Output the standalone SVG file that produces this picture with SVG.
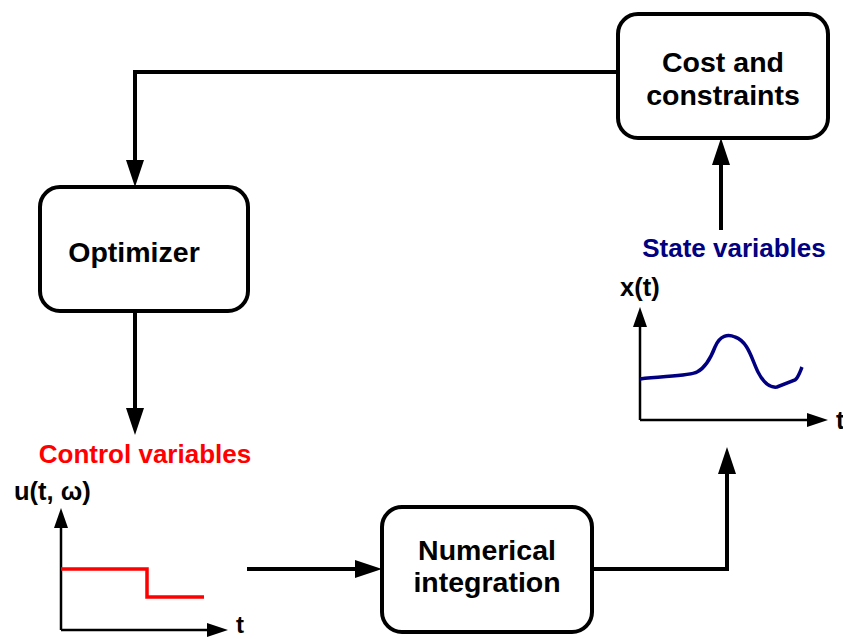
<svg xmlns="http://www.w3.org/2000/svg" width="843" height="639" viewBox="0 0 843 639">
<style>
.box{fill:#fff;stroke:#000;stroke-width:4}
.ln{fill:none;stroke:#000;stroke-width:4}
.ax{fill:none;stroke:#000;stroke-width:2.5}
.hd{fill:#000}
.t{font-family:"Liberation Sans",Arial,sans-serif;font-weight:bold;fill:#000}
</style>
<rect width="843" height="639" fill="#fff"/>
<g id="connectors">
<path class="ln" d="M618,72 H135 V162"/>
<polygon class="hd" points="126,160 144,160 135,187"/>
<path class="ln" d="M135,310 V410"/>
<polygon class="hd" points="126,408 144,408 135,435"/>
<path class="ln" d="M247,569 H357"/>
<polygon class="hd" points="355,560 355,578 382,569"/>
<path class="ln" d="M592,569 H727 V472"/>
<polygon class="hd" points="718,474 736,474 727,447"/>
<path class="ln" d="M721,230 V163"/>
<polygon class="hd" points="712,165 730,165 721,138"/>
</g>
<g id="cost">
<rect class="box" x="618" y="14" width="210" height="124" rx="20"/>
<text class="t" x="723" y="72" font-size="28.5" text-anchor="middle">Cost and</text>
<text class="t" x="723" y="105" font-size="28.5" text-anchor="middle">constraints</text>
</g>
<g id="optimizer">
<rect class="box" x="40" y="187" width="208" height="124" rx="20"/>
<text class="t" x="134" y="262" font-size="28.5" text-anchor="middle">Optimizer</text>
</g>
<g id="numerical">
<rect class="box" x="382" y="507" width="210" height="125" rx="20"/>
<text class="t" x="487" y="560" font-size="28.5" text-anchor="middle">Numerical</text>
<text class="t" x="487" y="592" font-size="28.5" text-anchor="middle">integration</text>
</g>
<g id="control">
<text class="t" x="145" y="463" font-size="26" text-anchor="middle" style="fill:#ff0000">Control variables</text>
<text class="t" x="14" y="500" font-size="25.5">u(t, ω)</text>
<path class="ax" d="M61,630 V525 M61,630 H210"/>
<polygon class="hd" points="54,528 68,528 61,508"/>
<polygon class="hd" points="207,623 207,637 228,630"/>
<text class="t" x="236" y="633" font-size="24">t</text>
<path fill="none" stroke="#ff0000" stroke-width="3.5" d="M61,569 H147 V597 H204"/>
</g>
<g id="state">
<text class="t" x="734" y="257" font-size="26" text-anchor="middle" style="fill:#000080">State variables</text>
<text class="t" x="620" y="296" font-size="25.5">x(t)</text>
<path class="ax" d="M640,420 V325 M640,420 H810"/>
<polygon class="hd" points="633,327 647,327 640,307"/>
<polygon class="hd" points="807,413 807,427 828,420"/>
<text class="t" x="836" y="429" font-size="25">t</text>
<path fill="none" stroke="#000080" stroke-width="3.5" d="M640,379 C665,376 690,376 697,372 C705,368 710,360 715,347 C720,335 728,334 735,337 C748,341 752,360 758,372 C764,384 770,388 777,387 L795,380 C798,378 800,372 802,367"/>
</g>
</svg>
